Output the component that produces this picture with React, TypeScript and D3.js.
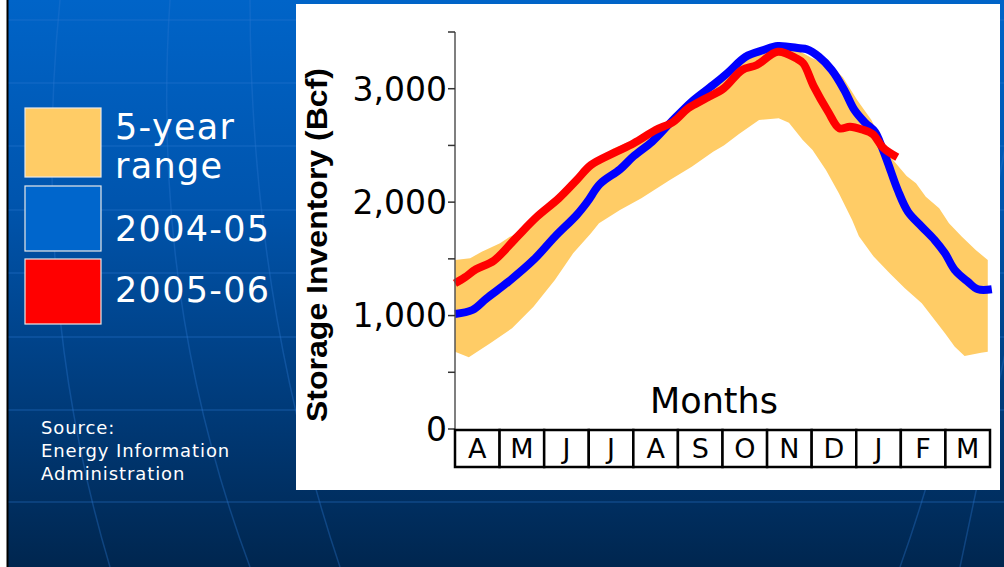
import { useMemo } from "react";
import * as d3 from "d3";

// 5-year range, upper and lower edges (month offset from April 1, Bcf)
const upperMonths = [0, 0.34, 0.6, 1.01, 1.23, 1.5, 1.76, 2.24, 2.73, 3.05, 3.54, 4.18, 4.6, 4.93, 5.31, 5.79, 6.12, 6.52, 6.92, 7.24, 7.73, 8.0, 8.45, 8.7, 9.02, 9.34, 9.58, 9.83, 10.13, 10.34, 10.56, 10.86, 11.08, 11.37, 11.68, 11.95];
const upperValues = [1490, 1505, 1563, 1637, 1695, 1735, 1850, 2010, 2180, 2320, 2470, 2580, 2660, 2740, 2870, 3020, 3130, 3260, 3320, 3340, 3330, 3270, 3200, 3100, 2900, 2724, 2530, 2370, 2230, 2166, 2048, 1946, 1813, 1695, 1578, 1490];
const lowerMonths = [0, 0.31, 0.79, 1.28, 1.76, 2.24, 2.65, 3.05, 3.23, 3.7, 4.18, 4.82, 5.31, 5.79, 6.03, 6.37, 6.82, 7.26, 7.49, 7.8, 8.02, 8.32, 8.61, 8.91, 9.06, 9.39, 9.75, 10.09, 10.47, 10.76, 10.99, 11.21, 11.43, 11.8, 11.95];
const lowerValues = [682, 632, 755, 888, 1078, 1314, 1549, 1725, 1813, 1931, 2034, 2195, 2312, 2445, 2500, 2600, 2724, 2739, 2700, 2548, 2460, 2283, 2078, 1840, 1700, 1520, 1373, 1240, 1108, 961, 844, 726, 644, 673, 682];

// 2004-05
const blueMonths = [0, 0.39, 0.71, 1.2, 1.76, 2.24, 2.73, 2.97, 3.25, 3.7, 4.01, 4.42, 4.82, 5.31, 5.79, 6.12, 6.52, 6.92, 7.24, 7.73, 7.89, 8.16, 8.45, 8.73, 8.96, 9.2, 9.42, 9.58, 9.71, 9.93, 10.16, 10.47, 10.76, 10.99, 11.21, 11.5, 11.73, 12.04];
const blueValues = [1014, 1049, 1152, 1299, 1490, 1695, 1887, 2004, 2160, 2289, 2407, 2533, 2695, 2886, 3033, 3141, 3282, 3341, 3377, 3356, 3347, 3282, 3165, 2989, 2812, 2700, 2620, 2480, 2345, 2107, 1916, 1784, 1666, 1549, 1402, 1299, 1232, 1232];

// 2005-06
const redMonths = [0, 0.22, 0.47, 0.87, 1.36, 1.84, 2.33, 2.73, 3.05, 3.54, 4.01, 4.5, 4.9, 5.23, 5.63, 6.03, 6.44, 6.77, 7.24, 7.65, 7.81, 8.05, 8.37, 8.62, 8.86, 9.13, 9.37, 9.6, 9.92];
const redValues = [1284, 1337, 1408, 1484, 1681, 1872, 2034, 2195, 2327, 2430, 2519, 2636, 2709, 2827, 2915, 3004, 3165, 3209, 3326, 3268, 3224, 3018, 2797, 2651, 2665, 2640, 2600, 2480, 2395];

const monthLabels = ["A", "M", "J", "J", "A", "S", "O", "N", "D", "J", "F", "M"];
const yTicks = [0, 500, 1000, 1500, 2000, 2500, 3000, 3500];
const yLabeled = [0, 1000, 2000, 3000];

const legendItems = [
  { lines: ["5-year", "range"], color: "#FFCC66" },
  { lines: ["2004-05"], color: "#0066CC" },
  { lines: ["2005-06"], color: "#FF0000" },
];

const W = 1004;
const H = 567;

const zip = (ms: number[], vs: number[]) => ms.map((m, i) => [m, vs[i]] as [number, number]);

export default function App() {
  const x = d3.scaleLinear().domain([0, 12]).range([455, 990]);
  const y = d3.scaleLinear().domain([0, 3500]).range([429, 32]);
  const band = d3.scaleBand<number>().domain(d3.range(12)).range([455, 990]);

  const line = d3
    .line<[number, number]>()
    .x((d) => x(d[0]))
    .y((d) => y(d[1]))
    .curve(d3.curveCatmullRom);

  const bandPath = useMemo(() => {
    const pts = [...zip(upperMonths, upperValues), ...zip(lowerMonths, lowerValues).reverse()];
    return d3
      .line<[number, number]>()
      .x((d) => x(d[0]))
      .y((d) => y(d[1]))
      .curve(d3.curveLinearClosed)(pts);
  }, []);

  const hLines = [20, 83, 146, 210, 273, 337, 410, 502];
  const meridians = [
    "M 60 0 Q 30 300 110 567",
    "M 170 0 Q 150 300 250 567",
    "M 250 0 Q 250 300 340 567",
    "M 1010 120 Q 960 400 900 567",
    "M 1010 330 Q 980 470 960 567",
  ];

  return (
    <svg
      width={W}
      height={H}
      style={{ position: "absolute", left: 0, top: 0, display: "block" }}
      fontFamily="DejaVu Sans, Verdana, sans-serif"
    >
      <defs>
        <linearGradient id="bg" x1="0" y1="0" x2="0" y2="1">
          <stop offset="0" stopColor="#0064C8" />
          <stop offset="0.35" stopColor="#0055AE" />
          <stop offset="0.7" stopColor="#003C7C" />
          <stop offset="1" stopColor="#00264F" />
        </linearGradient>
      </defs>
      <rect width={W} height={H} fill="#ffffff" />
      <rect x={8} width={W - 8} height={H} fill="url(#bg)" />
      <g stroke="#2A78D0" strokeOpacity={0.35} strokeWidth={1.5} fill="none">
        {hLines.map((hy) => (
          <line key={hy} x1={8} x2={W} y1={hy} y2={hy} />
        ))}
        {meridians.map((d, i) => (
          <path key={i} d={d} />
        ))}
      </g>
      <line x1={7.5} x2={7.5} y1={0} y2={H} stroke="#000" strokeWidth={2} />

      {/* legend */}
      {legendItems.map((it, i) => {
        const top = [108, 186, 259][i];
        const hgt = [69, 65, 65][i];
        return (
          <g key={i}>
            <rect x={25} y={top} width={76} height={hgt} fill={it.color} stroke="#E8E8E8" strokeWidth={1.2} />
            {it.lines.map((t, j) => (
              <text
                key={j}
                x={115}
                y={i === 0 ? 139 + j * 39 : i === 1 ? 241 : 302}
                fill="#ffffff"
                fontSize={35}
                letterSpacing={1.3}
              >
                {t}
              </text>
            ))}
          </g>
        );
      })}

      <g fill="#ffffff" fontSize={18} letterSpacing={0.9}>
        <text x={41} y={434}>Source:</text>
        <text x={41} y={457}>Energy Information</text>
        <text x={41} y={480}>Administration</text>
      </g>

      {/* chart panel */}
      <rect x={296} y={4} width={704} height={486} fill="#ffffff" />

      <path d={bandPath ?? ""} fill="#FFCC66" />
      <path
        d={line(zip(blueMonths, blueValues)) ?? ""}
        fill="none"
        stroke="#0000FF"
        strokeWidth={8}
        strokeLinejoin="round"
      />
      <path
        d={line(zip(redMonths, redValues)) ?? ""}
        fill="none"
        stroke="#FF0000"
        strokeWidth={8}
        strokeLinejoin="round"
      />

      {/* y axis */}
      <line x1={455} x2={455} y1={y(3500)} y2={y(0)} stroke="#555" strokeWidth={1.5} />
      {yTicks.map((t) => (
        <line key={t} x1={448} x2={455} y1={y(t)} y2={y(t)} stroke="#333" strokeWidth={1.5} />
      ))}
      {yLabeled.map((t) => (
        <text key={t} x={447} y={y(t)} dy="0.36em" textAnchor="end" fontSize={33} fill="#000">
          {d3.format(",")(t)}
        </text>
      ))}
      <text
        transform={`translate(327,${245}) rotate(-90)`}
        textAnchor="middle"
        fontFamily="Liberation Sans, Arial, sans-serif"
        fontWeight="bold"
        fontSize={29}
        textLength={354}
        lengthAdjust="spacingAndGlyphs"
        fill="#000"
      >
        Storage Inventory (Bcf)
      </text>

      {/* month boxes */}
      <text x={714} y={413} textAnchor="middle" fontSize={35} fill="#000">
        Months
      </text>
      {monthLabels.map((m, i) => (
        <g key={i}>
          <rect
            x={band(i)}
            y={430}
            width={band.bandwidth()}
            height={37}
            fill="#fff"
            stroke="#000"
            strokeWidth={2.5}
          />
          <text
            x={(band(i) ?? 0) + band.bandwidth() / 2}
            y={458}
            textAnchor="middle"
            fontSize={27}
            fill="#000"
          >
            {m}
          </text>
        </g>
      ))}
    </svg>
  );
}
